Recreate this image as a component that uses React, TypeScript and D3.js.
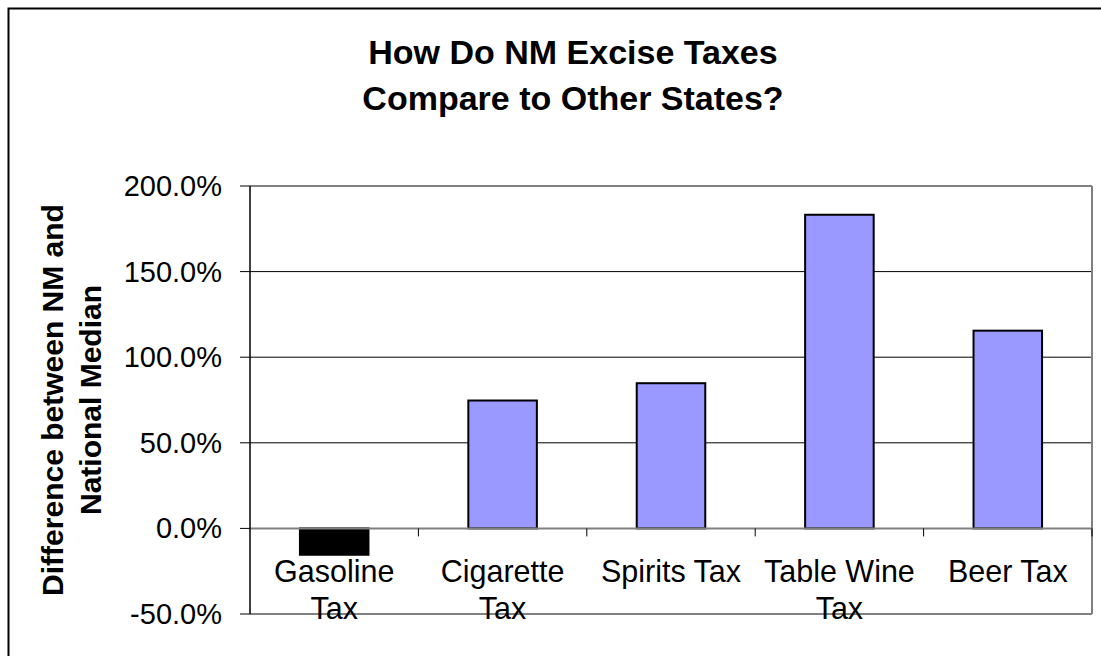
import React from "react";
import * as d3 from "d3";

const categories = ["Gasoline Tax", "Cigarette Tax", "Spirits Tax", "Table Wine Tax", "Beer Tax"];
const categoryLabelLines = [["Gasoline", "Tax"], ["Cigarette", "Tax"], ["Spirits Tax"], ["Table Wine", "Tax"], ["Beer Tax"]];
const values = [-15.4, 74.7, 84.8, 183.2, 115.5];
const yTicks = [-50, 0, 50, 100, 150, 200];
const titleLines = ["How Do NM Excise Taxes", "Compare to Other States?"];
const yTitleLines = ["Difference between NM and", "National Median"];

const FONT = "'Liberation Sans', Arial, Helvetica, sans-serif";

export default function App() {
  const W = 1101, H = 656;
  const left = 250, right = 1092, top = 186, bottom = 614;
  const x = d3.scaleBand<string>().domain(categories).range([left, right]).paddingInner(0.593).paddingOuter(0.2965);
  const y = d3.scaleLinear().domain([-50, 200]).range([bottom, top]);
  const step = x.step();
  const fmt = (v: number) => v.toFixed(1) + "%";
  const boundaries = categories.map((_, i) => left + step * (i + 1));

  return (
    <svg width={W} height={H} style={{ position: "absolute", left: 0, top: 0, background: "#fff" }} fontFamily={FONT}>
      <rect x={0} y={0} width={W} height={H} fill="#fff" />
      {/* outer border (right/bottom beyond view) */}
      <rect x={8.5} y={8.5} width={W + 20} height={H + 20} fill="none" stroke="#000" strokeWidth={2} />

      {/* title */}
      {titleLines.map((t, i) => (
        <text key={t} x={573} y={64 + i * 45.5} textAnchor="middle" fontSize={34} fontWeight="bold" fill="#000">{t}</text>
      ))}

      {/* gridlines */}
      {yTicks.filter(v => v > 0 && v < 200).map(v => (
        <line key={"g" + v} x1={left} x2={right} y1={y(v)} y2={y(v)} stroke="#000" strokeWidth={1} />
      ))}

      {/* plot border */}
      <line x1={left} x2={right} y1={top} y2={top} stroke="#808080" strokeWidth={2} />
      <line x1={right} x2={right} y1={top} y2={bottom} stroke="#808080" strokeWidth={2} />
      <line x1={left} x2={right} y1={bottom} y2={bottom} stroke="#808080" strokeWidth={2} />

      {/* bars */}
      {categories.map((c, i) => {
        const v = values[i];
        const y0 = y(0), y1 = y(v);
        return (
          <rect key={c} x={x(c)} y={Math.min(y0, y1)} width={x.bandwidth()} height={Math.abs(y1 - y0)}
            fill={v < 0 ? "#000" : "#9999FF"} stroke="#000" strokeWidth={2} />
        );
      })}

      {/* zero line / category axis */}
      <line x1={left} x2={right} y1={y(0)} y2={y(0)} stroke="#808080" strokeWidth={2} />
      {boundaries.map((b, i) => (
        <line key={"xt" + i} x1={b} x2={b} y1={y(0)} y2={y(0) + 8} stroke="#000" strokeWidth={1} />
      ))}

      {/* y axis */}
      <line x1={left} x2={left} y1={top} y2={bottom} stroke="#000" strokeWidth={1.5} />
      {yTicks.map(v => (
        <g key={"yt" + v}>
          <line x1={left - 10} x2={left} y1={y(v)} y2={y(v)} stroke="#000" strokeWidth={1} />
          <text x={222} y={y(v) + 10} textAnchor="end" fontSize={29} fill="#000">{fmt(v)}</text>
        </g>
      ))}

      {/* category labels */}
      {categories.map((c, i) => (
        <text key={"cl" + c} textAnchor="middle" fontSize={30.5} fill="#000">
          {categoryLabelLines[i].map((ln, j) => (
            <tspan key={j} x={(x(c) as number) + x.bandwidth() / 2} y={582 + j * 37}>{ln}</tspan>
          ))}
        </text>
      ))}

      {/* y title */}
      {yTitleLines.map((t, i) => (
        <text key={t} transform={`translate(${63 + i * 38},${400}) rotate(-90)`} textAnchor="middle"
          fontSize={30} fontWeight="bold" fill="#000">{t}</text>
      ))}
    </svg>
  );
}
